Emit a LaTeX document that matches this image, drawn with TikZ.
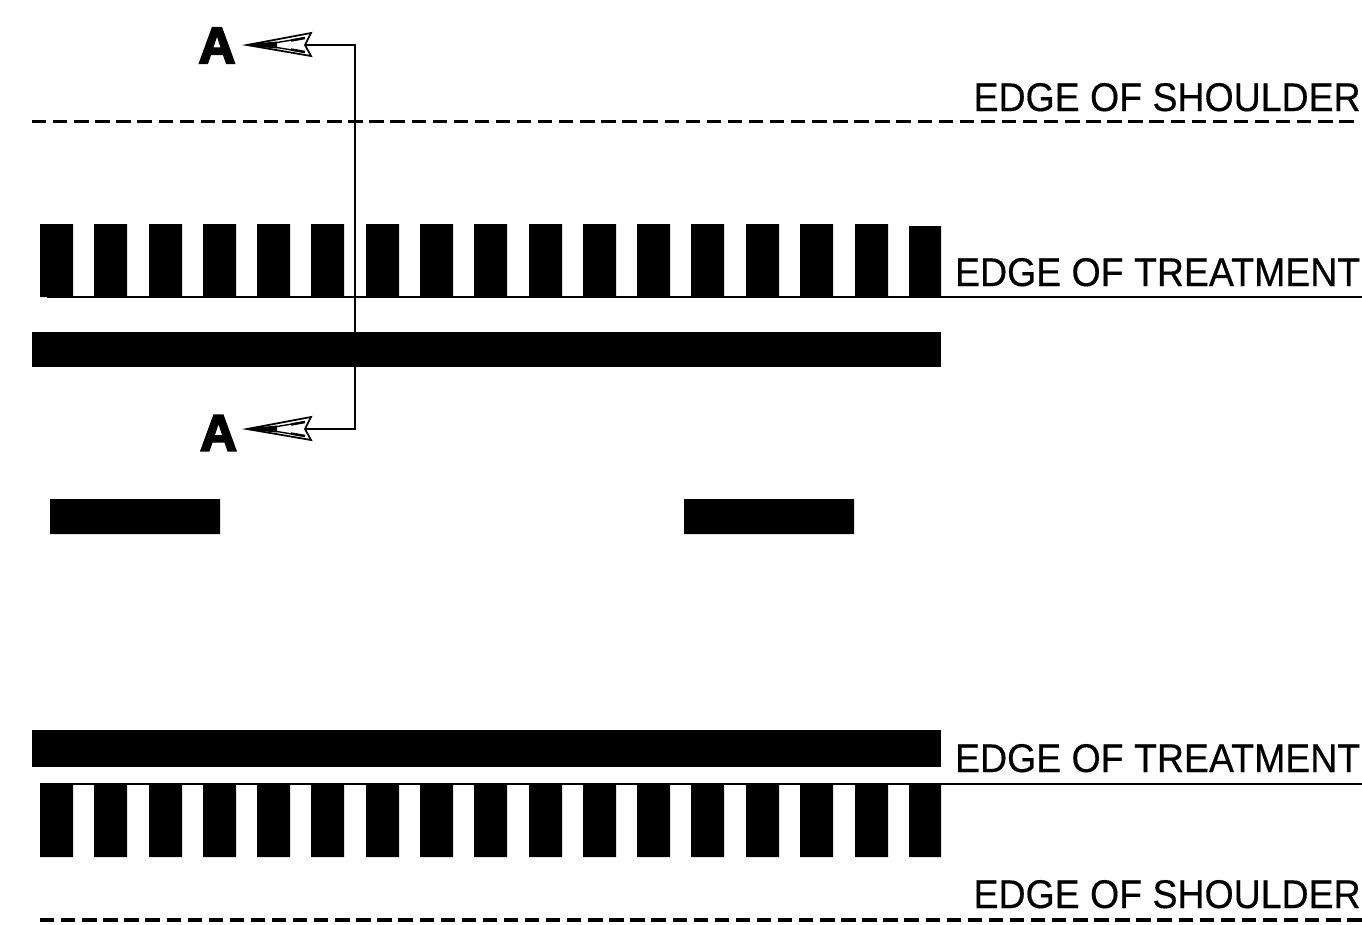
\documentclass[tikz,border=0pt]{standalone}
\usepackage{fontspec}
\setmainfont{Liberation Sans}
\newfontfamily\edgefont[FakeStretch=0.935,FakeBold=0.4]{Liberation Sans}
\newfontfamily\heavyfont[FakeBold=4]{Liberation Sans Bold}
\tikzset{
	edgelabel/.style={inner sep=0pt, anchor=base east, font=\edgefont\fontsize{22.8}{26}\selectfont},
	sectionlabel/.style={inner sep=0pt, anchor=base, font=\heavyfont\fontsize{29}{30}\selectfont},
	edgeline/.style={line width=0.85pt},
	shoulderline/.style={line width=1.8pt, dash pattern=on 8.2pt off 3.8pt},
	sectionline/.style={line width=0.85pt},
	sectionhead/.pic={
		\fill (0,-0.8) -- (30,-3.5) -- (30,3.5) -- (0,0.8) -- cycle;
		\draw [line width=1pt, line join=miter] (0,0) -- (64,-12) -- (58,0) -- (64,11) -- cycle;
		\draw [line width=0.8pt] (27,-2) -- (57,-7) (27,2) -- (57,7);
		\draw [line width=1.4pt] (44,-4.5) -- (58,-7) (44,4.5) -- (58,7);
	}
}
\begin{document}
\begin{tikzpicture}[x=0.02cm, y=-0.02cm]
		\useasboundingbox (0,0) rectangle (1362,924);
		% upper rumble strip and bar
		\fill (40,224) rectangle (73,297) (94,224) rectangle (127,297) (149,224) rectangle (182,297) (203,224) rectangle (236,297) (257,224) rectangle (290,297) (311,224) rectangle (344,297) (366,224) rectangle (399,297) (420,224) rectangle (453,297) (474,224) rectangle (507,297) (529,224) rectangle (562,297) (583,224) rectangle (616,297) (637,224) rectangle (670,297) (691,224) rectangle (724,297) (746,224) rectangle (779,297) (800,224) rectangle (833,297) (855,224) rectangle (888,297) (909,226) rectangle (941,297);
		\fill (32,332) rectangle (941,367);
		% centre dashes
		\fill (50,499) rectangle (220,534) (684,499) rectangle (854,534);
		% lower bar and rumble strip
		\fill (32,730) rectangle (941,767);
		\fill (40,784) rectangle (73,857) (94,784) rectangle (127,857) (149,784) rectangle (182,857) (203,784) rectangle (236,857) (257,784) rectangle (290,857) (311,784) rectangle (344,857) (366,784) rectangle (399,857) (420,784) rectangle (453,857) (474,784) rectangle (507,857) (529,784) rectangle (562,857) (583,784) rectangle (616,857) (637,784) rectangle (670,857) (691,784) rectangle (724,857) (746,784) rectangle (779,857) (800,784) rectangle (833,857) (855,784) rectangle (888,857) (909,784) rectangle (941,857);
		% edge lines
		\draw [shoulderline] (32,121.5) -- (1358,121.5);
		\draw [edgeline] (47,297) -- (1362,297);
		\draw [edgeline] (40,784) -- (1362,784);
		\draw [shoulderline] (40,920) -- (1362,920);
		\node [edgelabel] (shoulderup) at (1361,111) {EDGE OF SHOULDER};
		\node [edgelabel] (treatup) at (1360.5,286) {EDGE OF TREATMENT};
		\node [edgelabel] (treatdown) at (1360.5,772) {EDGE OF TREATMENT};
		\node [edgelabel] (shoulderdown) at (1361,908) {EDGE OF SHOULDER};
		% section A-A
		\node [sectionlabel] (aup) at (217,63) {A};
		\node [sectionlabel] (adown) at (218.5,450.5) {A};
		\coordinate (tipup) at (247,45);
		\coordinate (tipdown) at (247,429);
		\coordinate (notchup) at (305,45);
		\coordinate (notchdown) at (305,429);
		\pic at (tipup) {sectionhead};
		\pic at (tipdown) {sectionhead};
		\draw [sectionline] (notchup) -- (355,45) -- (355,429) -- (notchdown);
		\end{tikzpicture}
\end{document}
